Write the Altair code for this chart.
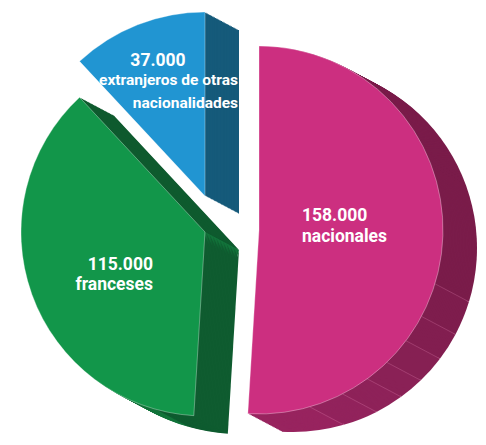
import math
import altair as alt
import pandas as pd

# ---------------- data ----------------
categories = ["nacionales", "franceses", "extranjeros"]
values = [158000, 115000, 37000]
value_labels = ["158.000", "115.000", "37.000"]
name_lines = [["nacionales"], ["franceses"], ["extranjeros de otras", "nacionalidades"]]

# ---------------- style / layout ----------------
face_colors = ["#CC2F80", "#12964A", "#2195D2"]
# rim / side shading per slice: (start angle in degrees, colour)
rim_shades = {
    "nacionales": [(0, "#7A1C4A"), (107, "#7E1D4D"), (118, "#821E50"), (127, "#862053"),
                   (136, "#8A2156"), (144, "#8E2259"), (153, "#92235C"), (164, "#98245F")],
    "franceses": [(0, "#0F5C30"), (196, "#13743B"), (300, "#0E5A2E")],
    "extranjeros": [(0, "#155A7A")],
}
facet_angles = [107, 118, 127, 136, 144, 153, 164]
W, H = 470, 429
R = 184
DEPTH = (34, 18)
N_LAYERS = 24
centers = {"nacionales": (251, 222), "franceses": (197, 224), "extranjeros": (197, 188)}
FONT = "Roboto, Liberation Sans, sans-serif"

total = sum(values)
deg = 360.0 / total
starts, ends = [], []
acc = 0
for v in values:
    starts.append(acc)
    acc += v
    ends.append(acc)

theta_scale = alt.Scale(domain=[0, total], range=[0, 2 * math.pi])

# ---------------- extrusion (3D depth) ----------------
side_rows = []
for k in range(N_LAYERS, 0, -1):
    ox = DEPTH[0] * k / N_LAYERS
    oy = DEPTH[1] * k / N_LAYERS
    for i, c in enumerate(categories):
        cx, cy = centers[c]
        shades = rim_shades[c]
        bounds = [a / deg for a, _ in shades] + [total]
        for j, (_, col) in enumerate(shades):
            a0 = max(bounds[j], starts[i])
            a1 = min(bounds[j + 1], ends[i])
            if a1 > a0:
                side_rows.append(dict(cx=cx + ox, cy=cy + oy, t0=a0, t1=a1, fill=col))
side_df = pd.DataFrame(side_rows)

sides = alt.Chart(side_df).mark_arc(radius=R).encode(
    x=alt.X("cx:Q", scale=None),
    y=alt.Y("cy:Q", scale=None),
    theta=alt.Theta("t0:Q", scale=theta_scale),
    theta2="t1:Q",
    color=alt.Color("fill:N", scale=None),
)

# facet lines on the magenta rim
facet_rows = []
cxn, cyn = centers["nacionales"]
for a in facet_angles:
    r = math.radians(a)
    x0 = cxn + R * math.sin(r)
    y0 = cyn - R * math.cos(r)
    facet_rows.append(dict(x=x0, y=y0, x2=x0 + DEPTH[0], y2=y0 + DEPTH[1]))
facets = alt.Chart(pd.DataFrame(facet_rows)).mark_rule(
    color="#D77AA8", strokeWidth=0.6, opacity=0.55
).encode(
    x=alt.X("x:Q", scale=None), y=alt.Y("y:Q", scale=None),
    x2="x2:Q", y2="y2:Q",
)

# ---------------- faces ----------------
face_df = pd.DataFrame(dict(
    cat=categories,
    cx=[centers[c][0] for c in categories],
    cy=[centers[c][1] for c in categories],
    t0=starts, t1=ends, fill=face_colors,
))
faces = alt.Chart(face_df).mark_arc(
    radius=R, stroke="#FFFFFF", strokeWidth=0.6, strokeOpacity=0.55
).encode(
    x=alt.X("cx:Q", scale=None),
    y=alt.Y("cy:Q", scale=None),
    theta=alt.Theta("t0:Q", scale=theta_scale),
    theta2="t1:Q",
    color=alt.Color("fill:N", scale=None),
)

# ---------------- labels ----------------
# offsets of each label line from its slice centre: (dx, dy, align, size)
label_layout = {
    "nacionales": [(43, -9, "left", 17.5), (43, 12, "left", 17.5)],
    "franceses": [(-52, 38, "right", 17.5), (-52, 58, "right", 17.5)],
    "extranjeros": [(-47, -130, "center", 17.5), (33, -111, "right", 15.5),
                    (33, -88, "right", 15.5)],
}
label_rows = []
for i, c in enumerate(categories):
    lines = [value_labels[i]] + name_lines[i]
    cx, cy = centers[c]
    for txt, (dx, dy, al, fs) in zip(lines, label_layout[c]):
        label_rows.append(dict(x=cx + dx, y=cy + dy, text=txt, align=al, size=fs))
label_df = pd.DataFrame(label_rows)

def text_layer(al):
    return alt.Chart(label_df).transform_filter(
        alt.datum.align == al
    ).mark_text(
        align=al, baseline="alphabetic", font=FONT,
        fontWeight="bold", color="white"
    ).encode(
        x=alt.X("x:Q", scale=None), y=alt.Y("y:Q", scale=None), text="text:N",
        size=alt.Size("size:Q", scale=None),
    )

chart = alt.layer(
    sides, facets, faces, text_layer("left"), text_layer("right"), text_layer("center")
).properties(
    width=W, height=H, padding=0, autosize=alt.AutoSizeParams(type="none")
).configure_view(strokeWidth=0)

chart.save("out.html", embed_options={"renderer": "svg", "actions": False})
